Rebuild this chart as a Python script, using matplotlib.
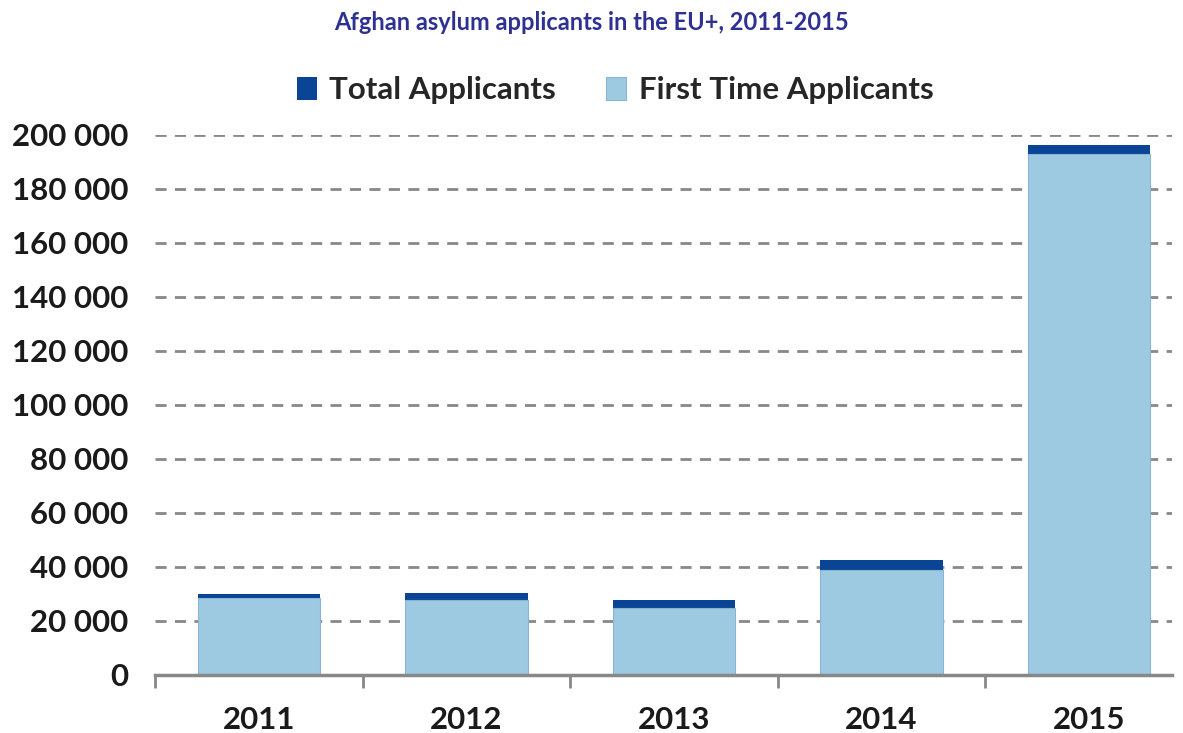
import matplotlib.pyplot as plt
import numpy as np

years = ['2011', '2012', '2013', '2014', '2015']
total_applicants = [30000, 30300, 27700, 42500, 196200]
first_time_applicants = [28400, 27900, 24900, 38900, 192900]
y_ticks = [0, 20000, 40000, 60000, 80000, 100000, 120000, 140000, 160000, 180000, 200000]

plt.rcParams['font.family'] = ['Lato', 'DejaVu Sans']

fig = plt.figure(figsize=(11.83, 7.33), dpi=100)
ax = fig.add_axes([155 / 1183, 1 - 675 / 733, (1172 - 155) / 1183, (675 - 135) / 733])

x = np.arange(len(years))
ax.bar(x, total_applicants, width=0.59, color='#0A4595', label='Total Applicants', zorder=2)
ax.bar(x, first_time_applicants, width=0.59, color='#9ECAE1', edgecolor='#8AB4D6',
       linewidth=0.8, label='First Time Applicants', zorder=3)

ax.set_xlim(-0.5, 4.4)
ax.set_ylim(0, 200000)
ax.set_yticks(y_ticks)
ax.set_yticklabels([f'{v:,}'.replace(',', ' ') for v in y_ticks])
ax.set_xticks(x)
ax.set_xticklabels(years)
ax.set_xticks(np.arange(-0.5, 4.5, 1.0), minor=True)

ax.tick_params(axis='x', which='major', length=0, pad=22)
ax.tick_params(axis='x', which='minor', length=9, width=2, color='#888888', direction='out')
ax.tick_params(axis='y', length=0, pad=19)
for lab in ax.get_xticklabels() + ax.get_yticklabels():
    lab.set_fontsize(22.5)
    lab.set_fontweight('bold')
    lab.set_color('#1A1A1A')

ax.yaxis.grid(True, linestyle=(0, (4, 3)), color='#888888', linewidth=2)
ax.set_axisbelow(True)
for side in ['top', 'right', 'left']:
    ax.spines[side].set_visible(False)
ax.spines['bottom'].set_color('#888888')
ax.spines['bottom'].set_linewidth(2.5)
ax.spines['bottom'].set_zorder(4)

fig.text(0.5, 1 - 22 / 733, 'Afghan asylum applicants in the EU+, 2011-2015', ha='center', va='center',
         fontsize=17, fontweight='bold', color='#2E3192')

leg = fig.legend(loc='center', bbox_to_anchor=(0.52, 1 - 90 / 733), ncol=2, frameon=False,
                 prop={'size': 22.5, 'weight': 'bold'}, handlelength=0.65, handleheight=0.75,
                 handletextpad=0.4, columnspacing=1.6)
for t in leg.get_texts():
    t.set_color('#262626')

fig.savefig('out.png', dpi=100)
